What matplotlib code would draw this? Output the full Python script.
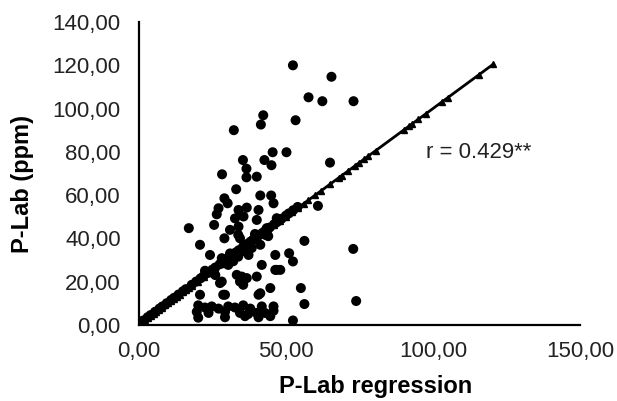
import matplotlib.pyplot as plt
from matplotlib.ticker import FuncFormatter

plt.rcParams['font.family'] = ['Liberation Sans', 'DejaVu Sans']

# observed P-Lab (y) against regression estimate (x)
obs_x = [52.4, 65.5, 57.7, 62.4, 73.0, 42.3, 41.5, 53.3, 32.3, 45.5, 50.2, 35.4, 42.7, 45.1, 36.6, 28.3, 36.6, 40.1, 65.0, 33.1,
         29.1, 30.2, 41.3, 45.0, 45.8, 27.1, 26.5, 33.9, 36.7, 35.6, 32.7, 40.7, 40.1, 17.0, 25.6, 33.9, 31.0, 29.1, 46.9, 43.5,
         43.0, 20.8, 34.4, 33.8, 38.9, 35.5, 38.4, 41.3, 37.3, 33.8, 32.1, 46.4, 41.8, 24.2, 28.2, 30.4,
         60.9, 56.3, 72.9, 51.1, 52.4, 48.1, 55.1, 56.3, 73.9, 52.4,
         46.4, 33.3, 34.4, 36.7, 40.1, 28.2, 44.7, 40.7, 29.3, 20.8, 41.3, 27.6, 35.0, 46.9, 35.5, 28.7,
         20.2, 22.5, 24.8, 27.1, 30.4, 32.7, 35.5, 37.9, 41.8, 45.8,
         19.7, 23.7, 29.3, 34.4, 37.2, 40.1, 42.9, 45.8,
         20.2, 29.3, 36.1, 40.7, 44.7,
         1.5, 3.0, 4.0, 5.5, 7.0, 8.0, 9.5, 11.0, 12.0, 13.5, 15.0, 16.0, 18.0, 19.5, 21.0, 22.0, 23.5, 25.0, 26.0, 27.5,
         29.0, 30.0, 31.5, 33.0, 34.0, 35.5, 37.0, 38.0, 39.0, 40.5, 42.0, 43.0, 44.5, 46.0, 47.0, 48.5, 50.0, 51.0, 52.5, 54.0,
         22.5, 26.0, 31.0, 36.0, 39.5, 44.0]
obs_y = [120.0, 114.7, 105.2, 103.4, 103.4, 96.9, 92.6, 94.6, 90.0, 79.8, 79.8, 76.2, 76.2, 73.8, 72.2, 69.6, 68.2, 68.5, 75.0, 62.7,
         58.5, 56.2, 59.8, 59.8, 56.2, 53.9, 51.1, 53.1, 54.2, 50.1, 49.2, 53.1, 48.5, 44.7, 46.2, 45.4, 43.9, 40.0, 49.3, 44.7,
         41.6, 37.0, 40.0, 41.6, 39.3, 36.2, 35.5, 37.0, 32.3, 31.5, 29.4, 32.3, 27.7, 32.3, 30.8, 27.7,
         55.0, 38.8, 35.1, 33.1, 29.3, 25.4, 17.0, 9.6, 11.0, 2.0,
         25.4, 23.1, 20.0, 21.6, 22.3, 20.0, 17.0, 13.9, 13.9, 13.9, 14.6, 19.3, 22.3, 25.4, 18.5, 13.9,
         9.0, 8.0, 8.5, 7.5, 8.5, 8.0, 9.0, 7.5, 8.5, 8.5,
         6.0, 5.5, 6.0, 5.5, 5.0, 5.5, 5.5, 6.5,
         3.3, 3.5, 4.0, 3.5, 4.0,
         2.0, 3.5, 4.5, 6.0, 7.5, 8.5, 10.0, 11.5, 12.5, 14.0, 15.5, 16.5, 18.5, 20.0, 21.5, 22.5, 24.0, 25.5, 26.5, 28.0,
         29.5, 30.5, 32.0, 33.5, 34.5, 36.0, 37.5, 38.5, 39.5, 41.0, 42.5, 43.5, 45.0, 46.5, 47.5, 49.0, 50.5, 51.5, 53.0, 54.5,
         25.0, 23.0, 33.0, 34.0, 42.0, 41.0]

# regression estimates (plotted on the 1:1 line)
reg_x = [0.5, 1.0, 2.0, 3.0, 4.0, 5.0, 6.0, 7.0, 8.0, 9.0, 10.0, 11.0, 12.0, 13.0, 14.0, 15.0, 16.0, 17.0, 18.0, 20.0,
         22.0, 24.0, 26.0, 28.0, 30.0, 32.0, 34.0, 36.0, 38.0, 40.0, 42.0, 44.0, 46.0, 48.0, 50.0, 52.0, 54.0, 56.0, 57.5,
         60.0, 62.0, 65.0, 68.0, 69.0, 71.0, 73.5, 75.0, 76.5, 78.0, 80.5, 90.0, 92.0, 93.0, 95.0, 97.5, 103.0, 105.0,
         115.5, 120.5]

fig = plt.figure(figsize=(6.17, 4.01), dpi=100)
ax = fig.add_axes([0.225, 0.19, 0.715, 0.755])

ax.plot(reg_x, reg_x, color='black', lw=2, marker='^', ms=5, zorder=2)
ax.scatter(obs_x, obs_y, s=52, color='black', edgecolors='none', zorder=3)

ax.set_xlim(0, 150)
ax.set_ylim(0, 140)
ax.set_xticks([0, 50, 100, 150])
ax.set_yticks(range(0, 141, 20))
fmt = FuncFormatter(lambda v, p: f'{v:.2f}'.replace('.', ','))
ax.xaxis.set_major_formatter(fmt)
ax.yaxis.set_major_formatter(fmt)
ax.tick_params(length=0, labelsize=16, colors='#222222', pad=13)
ax.tick_params(axis='x', pad=12)

for s in ['top', 'right']:
    ax.spines[s].set_visible(False)
for s in ['left', 'bottom']:
    ax.spines[s].set_linewidth(1.6)

fig.text(0.608, 0.035, 'P-Lab regression', fontsize=17, fontweight='bold', ha='center', va='center')
fig.text(0.037, 0.541, 'P-Lab (ppm)', fontsize=17, fontweight='bold', ha='center', va='center', rotation=90)

ax.text(97.5, 79.5, 'r = 0.429**', fontsize=16, va='center', ha='left', color='#222222')

fig.savefig('out.png', dpi=100)
